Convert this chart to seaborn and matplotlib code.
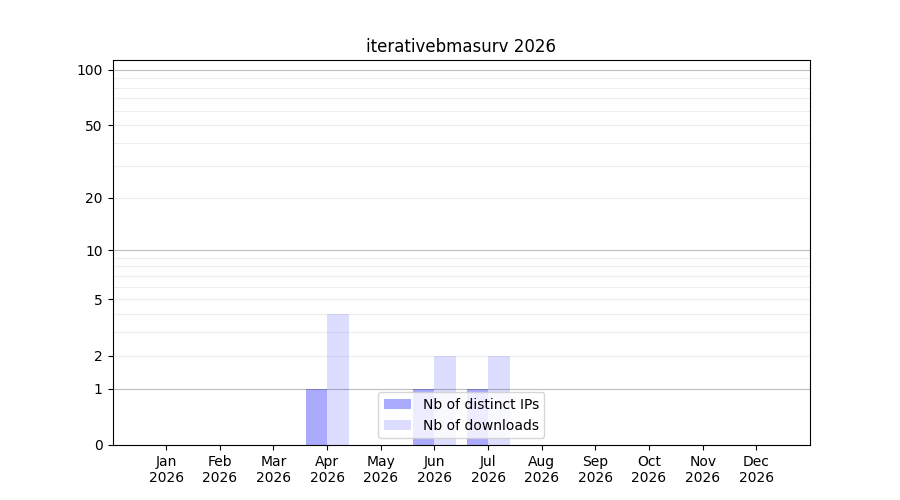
import numpy as np
import pandas as pd
import seaborn as sns
from matplotlib import pyplot as plt
from matplotlib.ticker import FixedLocator, NullFormatter

months = ["Jan", "Feb", "Mar", "Apr", "May", "Jun", "Jul", "Aug", "Sep", "Oct", "Nov", "Dec"]
year = "2026"
distinct_ips = [0, 0, 0, 1, 0, 1, 1, 0, 0, 0, 0, 0]
downloads = [0, 0, 0, 4, 0, 2, 2, 0, 0, 0, 0, 0]
major_ticks = [0, 1, 2, 5, 10, 20, 50, 100]
minor_ticks = [3, 4, 6, 7, 8, 9, 30, 40, 60, 70, 80, 90]
decades = [1, 10, 100]

labels = [f"{m}\n{year}" for m in months]
df = pd.DataFrame({
    "month": labels * 2,
    "value": distinct_ips + downloads,
    "series": ["Nb of distinct IPs"] * 12 + ["Nb of downloads"] * 12,
})

fig, ax = plt.subplots(figsize=(9, 5), dpi=100)
sns.barplot(data=df, x="month", y="value", hue="series",
            palette=["#aaaaff", "#ddddff"], saturation=1, ax=ax)

ax.set_yscale("function", functions=(lambda v: np.log10(1 + np.clip(v, 0, None)),
                                     lambda v: 10 ** v - 1))
ax.set_ylim(0, 113)
ax.yaxis.set_major_locator(FixedLocator(major_ticks))
ax.set_yticklabels([str(t) for t in major_ticks])
ax.yaxis.set_minor_locator(FixedLocator(minor_ticks))
ax.yaxis.set_minor_formatter(NullFormatter())
ax.tick_params(axis="y", which="minor", length=0)

# light grid everywhere, darker lines at the decades
ax.grid(axis="y", which="both", color="black", alpha=0.07, linewidth=0.8)
for t in decades:
    ax.axhline(t, color="black", alpha=0.2, linewidth=0.8, zorder=1.6)

ax.set_xlim(-1, 12)
ax.set_xlabel("")
ax.set_ylabel("")
ax.set_title(f"iterativebmasurv {year}")
ax.legend(loc="lower center")

plt.savefig("out.png")
